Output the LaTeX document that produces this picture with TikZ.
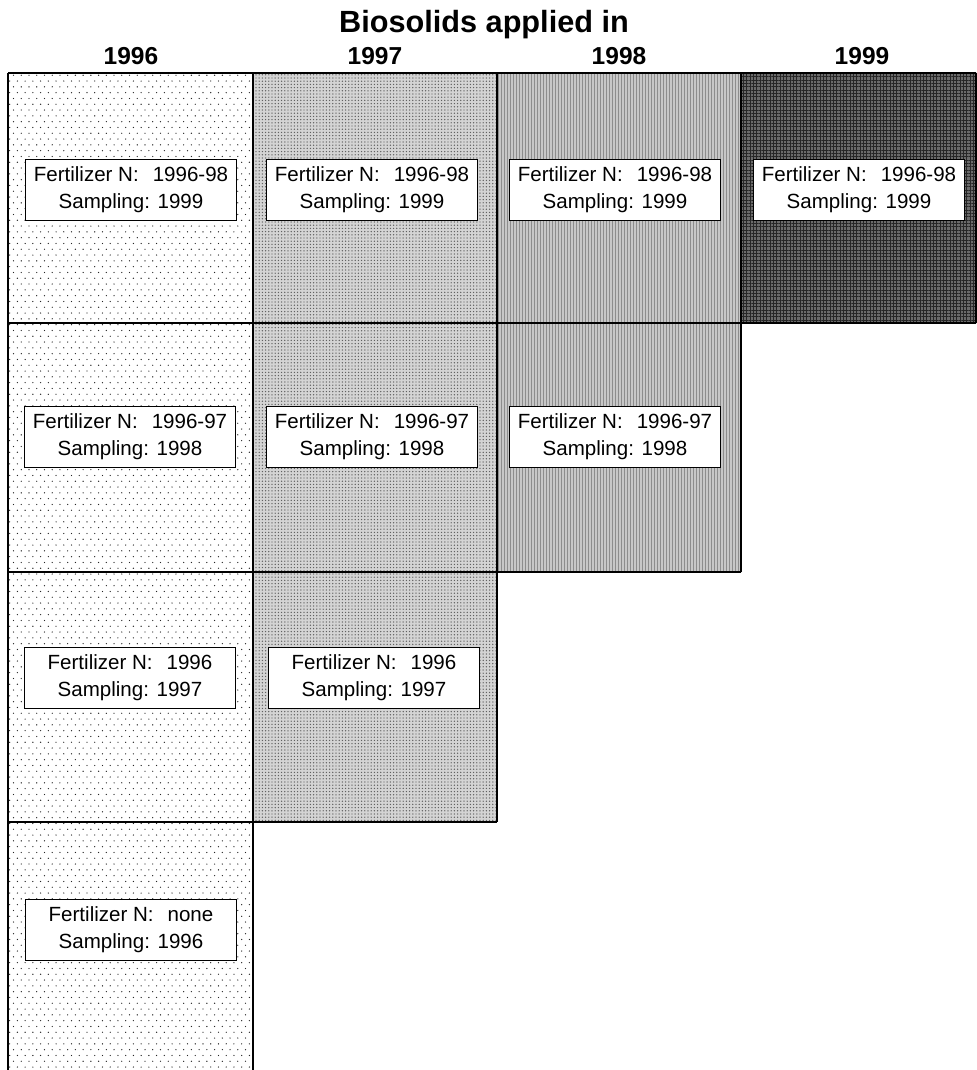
\documentclass[tikz,border=0pt]{standalone}
\usepackage{fontspec}
\setmainfont{Liberation Sans}
\usetikzlibrary{patterns,patterns.meta}
\pgfdeclarepatternformonly{stagdots}{\pgfpoint{-0.1pt}{-0.1pt}}{\pgfpoint{5.9pt}{8.8pt}}{\pgfpoint{5.8pt}{8.7pt}}{%
  \pgfpathcircle{\pgfpoint{1.45pt}{2.2pt}}{0.5pt}%
  \pgfpathcircle{\pgfpoint{4.35pt}{6.55pt}}{0.5pt}%
  \pgfusepath{fill}}
\newcommand\fertN[1]{Fertilizer N:\hspace{10.5pt}#1}
\begin{document}
\begin{tikzpicture}[x=0.75pt,y=-0.75pt,
  cellline/.style={line width=1.5pt},
  lab/.style={draw, line width=1pt, fill=white, align=center, minimum width=158pt,
    minimum height=46pt, inner sep=2pt, font=\fontsize{15.4pt}{20pt}\selectfont},
  yr/.style={font=\fontsize{18.4pt}{22pt}\selectfont\bfseries, anchor=base},
  ttl/.style={font=\fontsize{23pt}{26pt}\selectfont\bfseries, anchor=base}]
\useasboundingbox (0,0) rectangle (976,1070);
% column fills
\fill[white] (8,73) rectangle (253,1070);
\fill[pattern=stagdots, pattern color=black!85] (8,73) rectangle (253,1070);
\fill[black!17] (253,73) rectangle (497,822);
\fill[pattern={Dots[distance=2.4pt,radius=0.55pt]}, pattern color=black!62] (253,73) rectangle (497,822);
\fill[black!22] (497,73) rectangle (741,572);
\fill[pattern={Lines[angle=90,distance=2.25pt,line width=0.7pt]}, pattern color=black!45] (497,73) rectangle (741,572);
\fill[black!58] (741,73) rectangle (976,323);
\fill[pattern={Hatch[angle=0,distance=2.5pt,line width=0.5pt]}, pattern color=black!85] (741,73) rectangle (976,323);
% grid lines
\draw[cellline] (8,73) -- (976,73);
\draw[cellline] (8,323) -- (976,323);
\draw[cellline] (8,572) -- (741,572);
\draw[cellline] (8,822) -- (497,822);
\draw[cellline] (8,73) -- (8,1070);
\draw[cellline] (253,73) -- (253,1070);
\draw[cellline] (497,73) -- (497,822);
\draw[cellline] (741,73) -- (741,572);
\draw[cellline] (976,73) -- (976,323);
% headings
\node[ttl] (title) at (484,33) {Biosolids applied in};
\node[yr] (y96) at (131,65) {1996};
\node[yr] (y97) at (375,65) {1997};
\node[yr] (y98) at (619,65) {1998};
\node[yr] (y99) at (862,65) {1999};
% labels
\node[lab] (r1c1) at (131,190) {\fertN{1996-98}\\Sampling: 1999};
\node[lab] (r1c2) at (372,190) {\fertN{1996-98}\\Sampling: 1999};
\node[lab] (r1c3) at (615,190) {\fertN{1996-98}\\Sampling: 1999};
\node[lab] (r1c4) at (859,190) {\fertN{1996-98}\\Sampling: 1999};
\node[lab] (r2c1) at (130,437) {\fertN{1996-97}\\Sampling: 1998};
\node[lab] (r2c2) at (372,437) {\fertN{1996-97}\\Sampling: 1998};
\node[lab] (r2c3) at (615,437) {\fertN{1996-97}\\Sampling: 1998};
\node[lab] (r3c1) at (130,678) {\fertN{1996}\\Sampling: 1997};
\node[lab] (r3c2) at (374,678) {\fertN{1996}\\Sampling: 1997};
\node[lab] (r4c1) at (131,930) {\fertN{none}\\Sampling: 1996};
\end{tikzpicture}
\end{document}
